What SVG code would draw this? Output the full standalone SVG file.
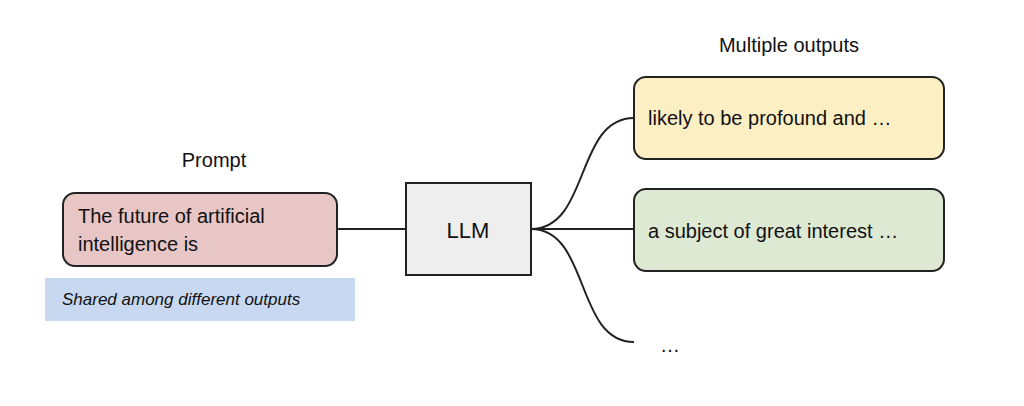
<svg xmlns="http://www.w3.org/2000/svg" width="1024" height="406" viewBox="0 0 1024 406">
<style>
text{font-family:"Liberation Sans",Arial,sans-serif;fill:#111}
.box{stroke:#222;stroke-width:2}
.t{font-size:20px}
.c{fill:none;stroke:#222;stroke-width:2}
</style>
<rect width="1024" height="406" fill="#fff"/>
<text x="214" y="167" class="t" text-anchor="middle">Prompt</text>
<text x="789" y="52" class="t" text-anchor="middle">Multiple outputs</text>
<g id="connectors">
<path class="c" d="M337 229H406"/>
<path class="c" d="M531 229C590 229 575 118 634 118"/>
<path class="c" d="M531 229H634"/>
<path class="c" d="M531 229C590 229 575 342 634 342"/>
</g>
<g id="prompt"><rect class="box" x="63" y="193" width="274" height="73" rx="12" fill="#e8c6c6"/>
<text x="78" y="223" class="t">The future of artificial</text><text x="78" y="251" class="t">intelligence is</text></g>
<g id="shared"><rect x="45" y="278" width="310" height="43" fill="#c8d8f0"/>
<text x="62" y="305" font-size="17" font-style="italic">Shared among different outputs</text></g>
<g id="llm"><rect class="box" x="406" y="183" width="125" height="92" fill="#eeeeee"/>
<text x="468" y="238" font-size="22" text-anchor="middle">LLM</text></g>
<g id="out1"><rect class="box" x="634" y="77" width="310" height="82" rx="12" fill="#fdefc4"/>
<text x="648" y="125" class="t">likely to be profound and …</text></g>
<g id="out2"><rect class="box" x="634" y="189" width="310" height="82" rx="12" fill="#dde9d3"/>
<text x="648" y="238" class="t">a subject of great interest …</text></g>
<g id="out3"><text x="660" y="352" class="t">…</text></g>
</svg>
